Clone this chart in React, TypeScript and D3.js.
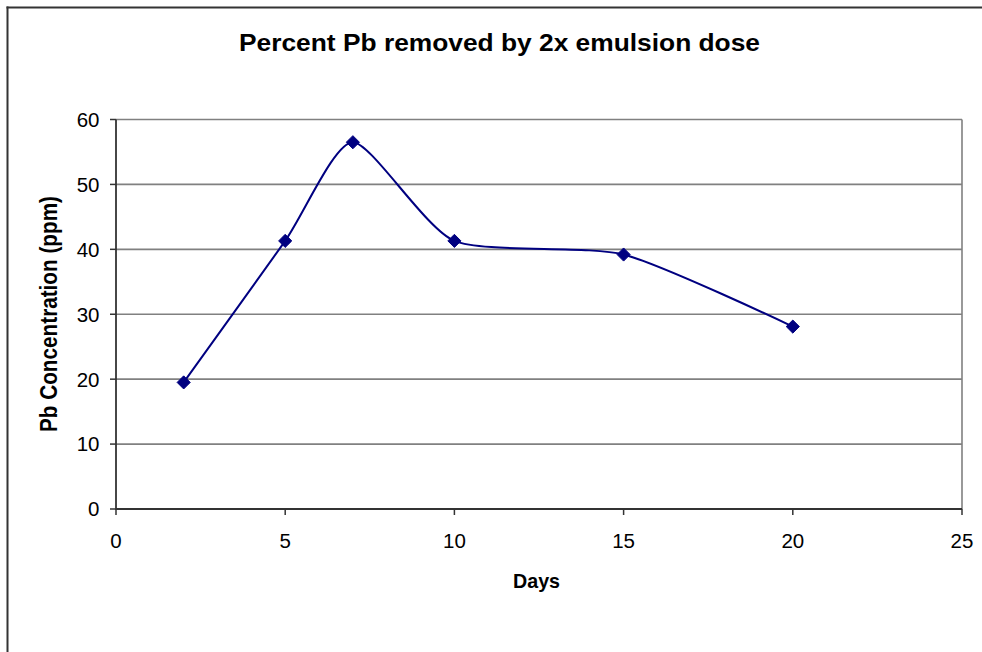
import React from "react";
import * as d3 from "d3";

const days = [2, 5, 7, 10, 15, 20];
const pbValues = [19.5, 41.3, 56.5, 41.3, 39.2, 28.1];
const xTicks = [0, 5, 10, 15, 20, 25];
const yTicks = [0, 10, 20, 30, 40, 50, 60];
const titleText = "Percent Pb removed by 2x emulsion dose";
const xTitle = "Days";
const yTitle = "Pb Concentration (ppm)";

const W = 982;
const H = 652;
const plot = { left: 116, right: 962, top: 119.5, bottom: 509 };

export default function App() {
  const x = d3.scaleLinear().domain([0, 25]).range([plot.left, plot.right]);
  const y = d3.scaleLinear().domain([0, 60]).range([plot.bottom, plot.top]);
  const pts: [number, number][] = days.map((d, i) => [x(d), y(pbValues[i])]);
  const line = d3.line().curve(d3.curveCardinal.tension(0.35))(pts) || "";
  const diamond = d3.symbol().type(d3.symbolDiamond2).size(110)() || "";
  const font = "Arial, 'Liberation Sans', Helvetica, sans-serif";
  const navy = "#000080";
  return (
    <div style={{ position: "absolute", left: 0, top: 0 }}>
      <svg width={W} height={H} style={{ display: "block", fontFamily: font }}>
        <rect x={0} y={0} width={W} height={H} fill="#fff" />
        <line x1={7.5} x2={7.5} y1={6.5} y2={H} stroke="#333" strokeWidth={2} />
        <line x1={6.5} x2={W} y1={7.5} y2={7.5} stroke="#333" strokeWidth={2} />
        {/* gridlines */}
        {yTicks.filter((t) => t > 0).map((t) => (
          <line key={t} x1={plot.left} x2={plot.right} y1={y(t)} y2={y(t)} stroke="#808080" strokeWidth={1.6} />
        ))}
        <line x1={plot.right} x2={plot.right} y1={plot.top} y2={plot.bottom} stroke="#808080" strokeWidth={1.6} />
        {/* axes */}
        <line x1={plot.left} x2={plot.left} y1={plot.top} y2={plot.bottom + 1} stroke="#333" strokeWidth={1.8} />
        <line x1={plot.left} x2={plot.right} y1={plot.bottom} y2={plot.bottom} stroke="#333" strokeWidth={1.8} />
        {yTicks.map((t) => (
          <g key={t}>
            <line x1={plot.left - 6} x2={plot.left} y1={y(t)} y2={y(t)} stroke="#333" strokeWidth={1.5} />
            <text x={99.5} y={y(t)} dy="0.36em" textAnchor="end" fontSize={20.5} fill="#000">{t}</text>
          </g>
        ))}
        {xTicks.map((t) => (
          <g key={t}>
            <line x1={x(t)} x2={x(t)} y1={plot.bottom} y2={plot.bottom + 6} stroke="#333" strokeWidth={1.5} />
            <text x={x(t)} y={548} textAnchor="middle" fontSize={20.5} fill="#000">{t}</text>
          </g>
        ))}
        {/* series */}
        <path d={line} fill="none" stroke={navy} strokeWidth={2} />
        {pts.map(([px, py], i) => (
          <path key={i} d={diamond} transform={`translate(${px},${py})`} fill={navy} stroke={navy} strokeWidth={1} />
        ))}
        {/* titles */}
        <text x={499.5} y={51} textAnchor="middle" fontSize={24.5} fontWeight="bold" textLength={521} lengthAdjust="spacingAndGlyphs">{titleText}</text>
        <text x={536.5} y={588} textAnchor="middle" fontSize={21} fontWeight="bold" textLength={47} lengthAdjust="spacingAndGlyphs">{xTitle}</text>
        <text transform={`translate(57,314) rotate(-90)`} textAnchor="middle" fontSize={24} fontWeight="bold" textLength={236} lengthAdjust="spacingAndGlyphs">{yTitle}</text>
      </svg>
    </div>
  );
}
